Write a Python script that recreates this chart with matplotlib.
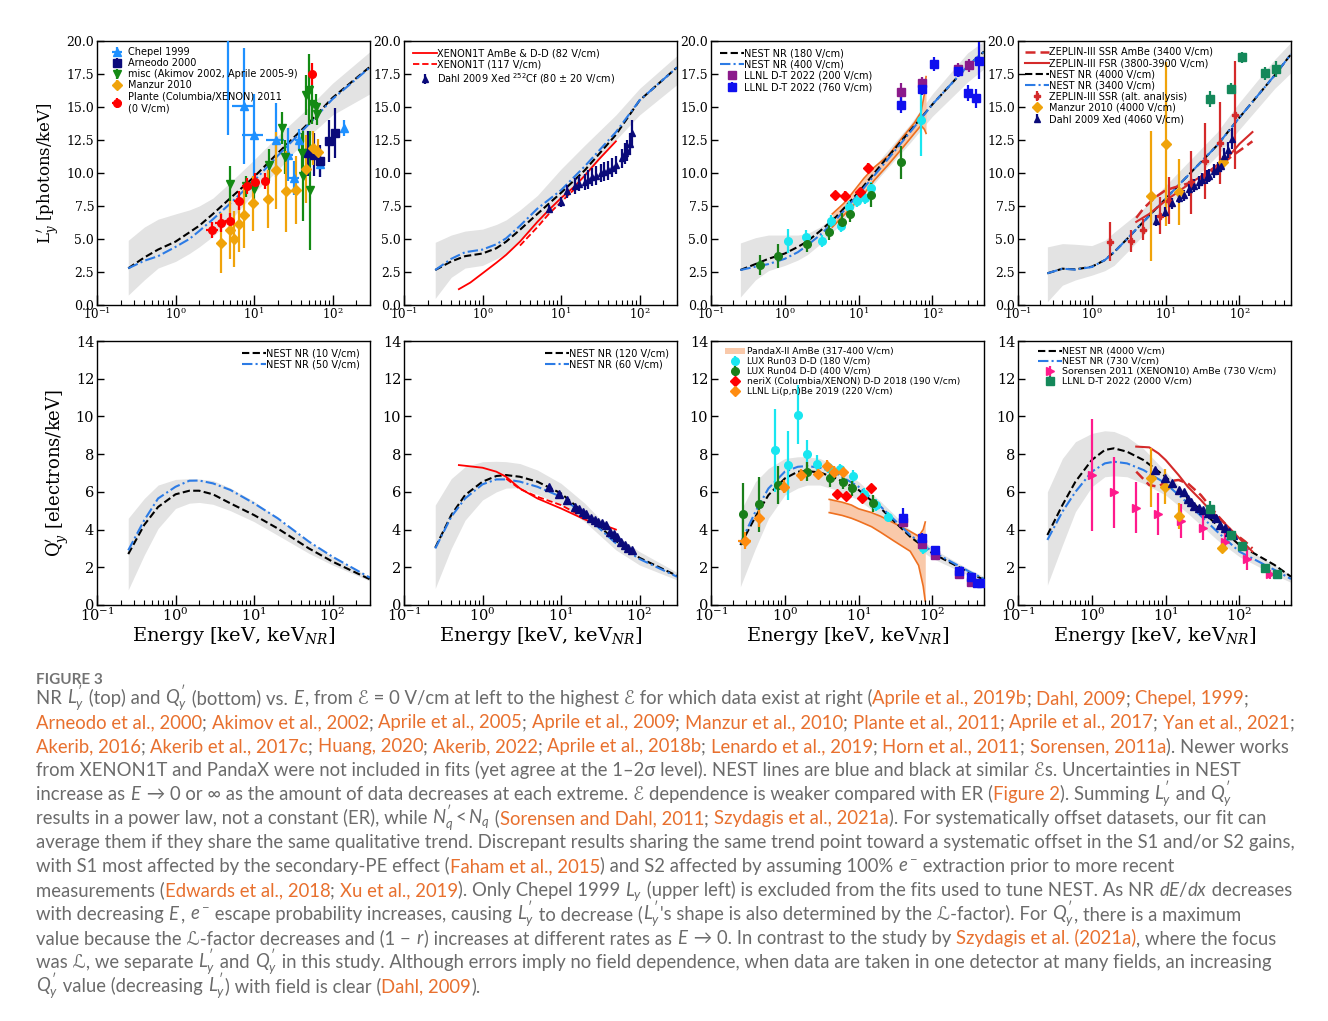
import re
import numpy as np
import matplotlib
matplotlib.use("Agg")
import matplotlib.pyplot as plt
from matplotlib.lines import Line2D
from matplotlib.patches import Patch, Rectangle

# ---------------------------------------------------------------- data
EN = [0.25, 0.4, 0.6, 1, 1.5, 2, 3, 5, 10, 20, 50, 100, 300]
EN5 = EN + [500]

# --- top row (L'y) NEST curves and bands
l1_black = [2.78, 3.6, 4.2, 4.8, 5.5, 6.0, 6.9, 8.1, 9.7, 11.5, 13.8, 15.7, 18.05]
l1_blue = [2.78, 3.35, 3.7, 4.4, 5.0, 5.6, 6.5, 7.7, 9.4, 11.3, 13.7, 15.6, 18.0]
l1_up = [4.9, 5.9, 6.5, 6.9, 7.2, 7.5, 8.1, 9.3, 11.0, 12.8, 15.0, 16.8, 19.2]
l1_lo = [0.75, 1.9, 2.8, 3.3, 3.9, 4.4, 5.2, 6.4, 8.5, 10.2, 12.8, 14.4, 16.0]

l2_black = [2.65, 3.3, 3.7, 3.9, 4.3, 4.8, 5.7, 6.9, 8.5, 10.2, 12.9, 15.5, 18.0]
l2_blue = [2.65, 3.5, 4.0, 4.2, 4.6, 5.05, 6.0, 7.3, 8.7, 10.5, 13.1, 15.5, 18.0]
l2_up = [4.75, 5.3, 5.6, 5.75, 6.1, 6.45, 7.2, 8.3, 10.3, 12.1, 14.4, 16.4, 18.9]
l2_lo = [0.5, 2.1, 2.8, 3.0, 3.5, 3.9, 4.8, 6.1, 7.8, 9.7, 12.5, 14.4, 16.7]

l3_black = [2.65, 3.1, 3.5, 3.9, 4.4, 4.8, 5.6, 6.7, 8.55, 10.6, 13.2, 15.2, 18.1, 19.2]
l3_blue = [2.65, 2.9, 3.1, 3.5, 4.0, 4.5, 5.3, 6.5, 8.4, 10.4, 13.1, 15.2, 18.1, 19.2]
l3_up = [4.7, 5.1, 5.3, 5.3, 5.3, 5.4, 5.9, 6.8, 8.9, 11.1, 13.7, 16.0, 19.1, 20.0]
l3_lo = [0.6, 1.9, 2.6, 3.0, 3.4, 3.8, 4.6, 5.8, 7.8, 9.8, 12.3, 14.3, 16.9, 17.9]

l4_black = [2.4, 2.75, 2.7, 2.9, 3.4, 4.0, 5.0, 6.3, 8.05, 9.8, 12.1, 14.2, 17.4, 19.0]
l4_blue = [2.4, 2.75, 2.68, 2.88, 3.4, 4.0, 5.0, 6.3, 8.05, 9.8, 12.1, 14.2, 17.4, 19.0]
l4_up = [4.4, 4.65, 4.6, 4.5, 4.9, 5.5, 6.3, 7.3, 9.05, 10.8, 13.1, 15.35, 18.6, 19.9]
l4_lo = [0.25, 1.5, 1.9, 2.26, 2.6, 3.0, 4.0, 5.3, 7.3, 9.05, 11.3, 13.3, 16.4, 17.6]

# --- bottom row (Q'y) NEST curves and bands
q1_black = [2.7, 4.25, 5.2, 5.87, 6.06, 6.06, 5.87, 5.39, 4.77, 4.06, 3.0, 2.3, 1.36]
q1_blue = [2.9, 4.5, 5.65, 6.27, 6.59, 6.6, 6.45, 6.1, 5.39, 4.6, 3.36, 2.56, 1.45]
q1_up = [4.6, 5.65, 6.36, 6.66, 6.7, 6.68, 6.6, 6.2, 5.5, 4.6, 3.36, 2.56, 1.48]
q1_lo = [0.8, 2.65, 4.06, 5.12, 5.4, 5.44, 5.34, 5.0, 4.42, 3.7, 2.74, 2.12, 1.27]

q2_black = [3.04, 4.77, 5.83, 6.54, 6.84, 6.89, 6.8, 6.54, 5.92, 4.86, 3.39, 2.5, 1.55]
q2_blue = [3.0, 4.68, 5.65, 6.4, 6.66, 6.66, 6.54, 6.27, 5.74, 4.77, 3.27, 2.44, 1.5]
q2_up = [5.3, 6.7, 7.33, 7.6, 7.62, 7.6, 7.5, 7.16, 6.45, 5.4, 3.7, 2.83, 1.73]
q2_lo = [0.88, 3.0, 4.5, 5.57, 6.0, 6.2, 6.22, 5.87, 5.3, 4.42, 2.92, 2.12, 1.33]

q3_black = [3.18, 4.68, 5.83, 6.71, 7.07, 7.1, 7.03, 6.71, 6.1, 5.12, 3.62, 2.74, 1.77, 1.33]
q3_blue = [3.27, 4.95, 6.18, 7.07, 7.33, 7.37, 7.28, 6.98, 6.27, 5.21, 3.71, 2.83, 1.82, 1.38]
q3_up = [4.95, 6.54, 7.24, 7.77, 7.86, 7.86, 7.77, 7.33, 6.54, 5.48, 3.98, 3.0, 1.94, 1.5]
q3_lo = [0.97, 3.0, 4.59, 5.83, 6.2, 6.36, 6.36, 6.1, 5.57, 4.68, 3.27, 2.47, 1.59, 1.24]

q4_black = [3.71, 5.3, 6.54, 7.69, 8.22, 8.31, 8.13, 7.69, 6.8, 5.65, 4.24, 3.18, 2.12, 1.5]
q4_blue = [3.45, 4.95, 6.0, 7.07, 7.51, 7.6, 7.51, 7.16, 6.45, 5.39, 3.89, 2.83, 1.86, 1.38]
q4_up = [6.0, 7.77, 8.66, 9.1, 9.24, 9.2, 8.92, 8.3, 7.07, 5.83, 4.24, 3.18, 2.12, 1.59]
q4_lo = [1.06, 3.18, 4.95, 6.27, 6.8, 6.85, 6.8, 6.45, 5.83, 4.86, 3.45, 2.56, 1.59, 1.2]

# --- top-left data (0 V/cm)
chepel_E = [4.7, 7.5, 10.0, 19.0, 27.0, 32.0, 37.0, 70.0, 140.0]
chepel_L = [20.6, 15.1, 12.9, 12.5, 11.4, 9.6, 12.5, 10.7, 13.4]
chepel_err = [7.7, 4.4, 3.1, 2.8, 2.0, 1.3, 0.8, 1.0, 0.6]
chepel_xerr = [0.5, 2.3, 2.9, 4.8, 4.0, 5.0, 4.0, 8.0, 0.0]
arneodo_E = [48, 58, 70, 90, 108]
arneodo_L = [11.5, 11.4, 10.9, 12.4, 13.0]
arneodo_err = [1.7, 1.6, 1.2, 1.6, 1.9]
misc_E = [4.9, 7.8, 10.1, 15.4, 22.4, 25.0, 41.0, 41.5, 46.0, 50.0, 52.0, 55.0, 61.0, 64.0]
misc_L = [9.2, 9.0, 8.8, 10.6, 13.4, 11.2, 11.5, 9.8, 15.9, 16.3, 8.7, 15.2, 15.0, 14.5]
misc_err = [1.3, 0.8, 1.0, 1.2, 1.2, 1.3, 1.5, 3.4, 1.5, 2.7, 4.5, 1.5, 1.0, 0.9]
manzur0_E = [3.8, 4.9, 5.6, 6.4, 7.5, 9.6, 14.9, 19.1, 25.4, 34.5, 46, 56, 66]
manzur0_L = [4.7, 5.7, 5.0, 6.1, 6.8, 7.7, 8.0, 10.2, 8.6, 8.7, 10.3, 11.9, 11.6]
manzur0_err = [2.3, 2.2, 2.1, 2.1, 2.5, 2.1, 2.2, 2.9, 3.1, 2.6, 2.6, 1.3, 1.0]
plante_E = [2.95, 3.8, 4.9, 6.4, 8.1, 10.4, 14.0, 54.0]
plante_L = [5.7, 6.2, 6.4, 7.9, 9.0, 9.3, 9.4, 17.5]
plante_err = [0.6, 0.7, 0.6, 0.7, 0.6, 0.7, 0.6, 0.8]
plante_xerr = [0.5, 0.6, 0.6, 0.8, 1.0, 1.2, 1.5, 5.0]

# --- ~100 V/cm (XENON1T, Dahl 2009 Xed 252Cf)
x1t_E = [0.5, 0.7, 1, 1.5, 2, 3, 5, 7, 10, 15, 20, 30, 50]
x1t_L = [1.2, 1.7, 2.4, 3.2, 3.8, 4.8, 6.3, 7.2, 8.1, 9.0, 9.8, 11.0, 12.4]
x1t117_E = [3, 5, 7, 10, 15]
x1t117_L = [4.5, 5.9, 6.9, 7.8, 8.8]
x1t_Eq = [0.5, 1, 1.5, 2, 3, 5, 10, 20, 30, 40, 50]
x1t_Q = [7.42, 7.28, 7.07, 6.8, 6.18, 5.65, 5.12, 4.54, 4.25, 4.15, 4.0]
x1t117_Eq = [2, 3, 5, 10, 20]
x1t117_Q = [6.7, 6.15, 5.74, 5.3, 4.63]
dahl80_E = [7, 10, 12, 15, 17, 20, 22, 25, 28, 32, 35, 40, 45, 50, 60, 65, 70, 75, 80]
dahl80_L = [7.3, 7.8, 8.6, 9.0, 9.2, 9.3, 9.5, 9.7, 9.8, 10.0, 10.1, 10.2, 10.4, 10.6, 11.1, 11.5, 11.7, 12.2, 13.0]
dahl80_err = [0.3, 0.4, 0.5, 0.6, 0.6, 0.6, 0.7, 0.7, 0.7, 0.7, 0.7, 0.7, 0.7, 0.7, 0.7, 0.8, 0.8, 0.8, 1.0]
dahl80_Eq = [7, 9.5, 12, 15, 17, 19, 21, 24, 27, 30, 33, 37, 42, 47, 52, 58, 65, 72, 80]
dahl80_Q = [6.27, 5.87, 5.57, 5.21, 5.1, 4.95, 4.8, 4.63, 4.5, 4.42, 4.33, 4.24, 3.89, 3.75, 3.62, 3.36, 3.2, 3.04, 2.92]

# --- ~200-400 V/cm (LUX, neriX, LLNL, PandaX)
panda_El = [4.4, 6.3, 8, 11.8, 16, 25, 38, 57, 70, 78, 82]
panda_Lup = [6.9, 7.7, 8.4, 9.6, 10.4, 11.3, 12.6, 13.8, 14.6, 16.0, 17.3]
panda_Llo = [5.9, 6.8, 7.4, 8.4, 9.4, 10.6, 11.8, 13.0, 13.6, 13.3, 13.0]
panda_Eq = [4, 6, 8, 10, 15, 20, 30, 50, 65, 75, 80]
panda_Qup = [5.6, 5.45, 5.3, 5.1, 4.9, 4.7, 4.35, 3.9, 3.65, 4.0, 4.4]
panda_Qlo = [4.9, 4.75, 4.6, 4.45, 4.15, 3.85, 3.4, 2.85, 2.1, 1.0, 0.2]
lux03_El = [1.09, 1.94, 3.2, 4.2, 5.7, 7.5, 9.6, 12.2, 14.6, 71]
lux03_L = [4.85, 5.15, 4.85, 6.35, 6.0, 7.4, 7.9, 8.1, 8.9, 14.0]
lux03_Lerr = [0.9, 0.5, 0.45, 0.45, 0.45, 0.45, 0.45, 0.45, 0.45, 2.7]
lux04_El = [0.46, 0.81, 2.0, 4.0, 6.0, 7.6, 14.9, 38]
lux04_L = [3.0, 3.7, 4.6, 5.5, 6.3, 6.9, 8.35, 10.8]
lux04_Lerr = [0.75, 0.9, 0.6, 0.6, 0.65, 0.6, 0.9, 1.25]
nerix_El = [4.8, 6.5, 10.3, 13.5]
nerix_L = [8.3, 8.25, 8.55, 10.4]
llnl200_El = [38, 72, 220, 310]
llnl200_L = [16.15, 16.8, 17.9, 18.15]
llnl200_Lerr = [0.7, 0.5, 0.4, 0.5]
llnl760_El = [38, 72, 105, 220, 300, 390, 430]
llnl760_L = [15.15, 16.4, 18.25, 17.7, 16.05, 15.65, 18.5]
llnl760_Lerr = [0.6, 0.5, 0.5, 0.4, 0.6, 0.7, 1.4]
lux03_Eq = [0.73, 1.1, 1.49, 2.0, 2.77, 3.9, 5.6, 8.3, 11.8, 17, 24.7, 74]
lux03_Q = [8.2, 7.4, 10.1, 8.0, 7.5, 7.3, 7.2, 6.84, 5.9, 5.3, 4.68, 3.0]
lux03_Qerr = [2.2, 1.85, 1.55, 0.75, 0.45, 0.3, 0.3, 0.3, 0.3, 0.3, 0.25, 0.3]
lux04_Eq = [0.27, 0.45, 0.81, 1.98, 4.1, 6.2, 8.2, 15.8]
lux04_Q = [4.82, 5.33, 6.36, 7.07, 6.71, 6.54, 6.2, 5.39]
lux04_Qerr = [1.65, 1.45, 1.0, 0.5, 0.45, 0.4, 0.4, 0.45]
nerix_Eq = [5.1, 6.8, 11.1, 14.6]
nerix_Q = [5.88, 5.8, 5.7, 6.2]
lipbe_Eq = [0.29, 0.45, 0.98, 1.64, 2.83, 3.7, 4.6, 6.2]
lipbe_Q = [3.4, 4.6, 6.27, 6.9, 6.97, 7.38, 7.07, 7.07]
lipbe_Qerr = [0.45, 0.45, 0.35, 0.3, 0.3, 0.3, 0.3, 0.3]
llnl760_Eq = [39.5, 72, 108, 230, 330, 400, 460]
llnl760_Q = [4.63, 3.53, 2.92, 1.8, 1.5, 1.15, 1.15]
llnl760_Qerr = [0.5, 0.3, 0.2, 0.2, 0.2, 0.1, 0.1]
llnl200_Eq = [39.5, 72, 108, 230, 330]
llnl200_Q = [4.38, 3.23, 2.65, 1.64, 1.24]

# --- high field (ZEPLIN-III, Manzur, Dahl Xed, Sorensen, LLNL 2000 V/cm)
zssr_El = [4, 5, 7, 10, 15, 20, 30, 50, 80, 120, 150]
zssr_L = [6.6, 7.3, 8.1, 8.7, 9.0, 9.2, 9.6, 10.4, 11.3, 12.0, 12.4]
zfsr_El = [4, 6, 10, 20, 40, 70, 100, 150]
zfsr_L = [6.3, 6.9, 7.9, 9.1, 10.2, 11.2, 12.2, 13.1]
zalt_E = [1.76, 3.4, 5.0, 8.4, 11.0, 21.8, 34, 55, 86]
zalt_L = [4.8, 4.85, 5.7, 6.75, 7.9, 9.3, 10.9, 12.3, 14.4]
zalt_err = [1.5, 0.8, 0.8, 1.4, 1.8, 2.4, 2.9, 3.1, 4.1]
manzur4k_El = [6.3, 10, 15.1, 60]
manzur4k_L = [8.25, 12.2, 8.55, 10.8]
manzur4k_Lerr = [4.9, 6.2, 2.5, 0.5]
dahl4k_El = [7.3, 9.8, 12.3, 15.1, 17.6, 21, 24, 28, 31.6, 36, 39, 45, 51, 56, 62, 71, 80]
dahl4k_L = [6.4, 7.05, 7.7, 8.1, 8.3, 8.75, 9.05, 9.3, 9.5, 9.7, 9.8, 10.15, 10.35, 10.55, 11.3, 11.75, 12.6]
dahl4k_Lerr = [0.4, 0.4, 0.4, 0.4, 0.4, 0.5, 0.5, 0.5, 0.5, 0.5, 0.5, 0.5, 0.5, 0.5, 0.6, 0.6, 0.8]
llnl2k_El = [39.5, 76, 110, 220, 310]
llnl2k_L = [15.6, 16.4, 18.75, 17.55, 17.9]
llnl2k_Lerr = [0.6, 0.4, 0.4, 0.5, 0.6]
zfsr_Eq = [4, 6, 8, 10, 15, 20, 30, 40, 60, 100, 150]
zfsr_Q = [8.4, 8.36, 8.04, 7.69, 6.89, 6.27, 5.57, 5.03, 4.42, 3.53, 2.83]
zssr_Eq = [4, 6, 8, 10, 15, 20, 30, 50, 80, 120, 150]
zssr_Q = [7.07, 6.36, 6.27, 6.54, 6.63, 6.45, 5.83, 4.77, 3.89, 3.36, 3.0]
sorensen_E = [1, 2, 4, 8, 16, 32, 64, 128, 256]
sorensen_Q = [6.89, 5.97, 5.16, 4.82, 4.47, 4.1, 3.36, 2.44, 1.63]
sorensen_err = [2.96, 1.88, 1.36, 1.1, 0.9, 0.67, 0.5, 0.57, 0.25]
manzur4k_Eq = [6.4, 9.8, 15.2, 58]
manzur4k_Q = [6.75, 6.27, 4.72, 3.0]
manzur4k_Qerr = [1.55, 0.93, 0.7, 0.15]
dahl4k_Eq = [7.1, 9.8, 12.3, 15, 17.6, 19.8, 22, 24.6, 28, 32.5, 37, 42.5, 48, 54, 63, 72, 82]
dahl4k_Q = [7.16, 6.71, 6.45, 6.1, 6.0, 5.6, 5.45, 5.27, 5.15, 5.04, 4.9, 4.82, 4.6, 4.24, 4.06, 3.85, 3.7]
llnl2k_Eq = [40, 76, 110, 220, 320]
llnl2k_Q = [5.09, 3.71, 3.13, 1.94, 1.63]
llnl2k_Qerr = [0.4, 0.2, 0.15, 0.1, 0.1]

LY_TICKS = [0.0, 2.5, 5.0, 7.5, 10.0, 12.5, 15.0, 17.5, 20.0]
QY_TICKS = [0, 2, 4, 6, 8, 10, 12, 14]

CAPTION_TITLE = "FIGURE 3"
CAPTION = [
    "NR $L_y'$ (top) and $Q_y'$ (bottom) vs. $E$, from \u2130 = 0 V/cm at left to the highest \u2130 for which data exist at right («Aprile et al., 2019b»; «Dahl, 2009»; «Chepel, 1999»;",
    "«Arneodo et al., 2000»; «Akimov et al., 2002»; «Aprile et al., 2005»; «Aprile et al., 2009»; «Manzur et al., 2010»; «Plante et al., 2011»; «Aprile et al., 2017»; «Yan et al., 2021»;",
    "«Akerib, 2016»; «Akerib et al., 2017c»; «Huang, 2020»; «Akerib, 2022»; «Aprile et al., 2018b»; «Lenardo et al., 2019»; «Horn et al., 2011»; «Sorensen, 2011a»). Newer works",
    "from XENON1T and PandaX were not included in fits (yet agree at the 1\u20132\u03c3 level). NEST lines are blue and black at similar \u2130s. Uncertainties in NEST",
    "increase as $E$ \u2192 0 or \u221e as the amount of data decreases at each extreme. \u2130 dependence is weaker compared with ER («Figure 2»). Summing $L_y'$ and $Q_y'$",
    "results in a power law, not a constant (ER), while $N_q' < N_q$ («Sorensen and Dahl, 2011»; «Szydagis et al., 2021a»). For systematically offset datasets, our fit can",
    "average them if they share the same qualitative trend. Discrepant results sharing the same trend point toward a systematic offset in the S1 and/or S2 gains,",
    "with S1 most affected by the secondary-PE effect («Faham et al., 2015») and S2 affected by assuming 100% $e^-$ extraction prior to more recent",
    "measurements («Edwards et al., 2018»; «Xu et al., 2019»). Only Chepel 1999 $L_y$ (upper left) is excluded from the fits used to tune NEST. As NR $dE/dx$ decreases",
    "with decreasing $E$, $e^-$ escape probability increases, causing $L_y'$ to decrease ($L_y'$'s shape is also determined by the \u2112-factor). For $Q_y'$, there is a maximum",
    "value because the \u2112-factor decreases and (1 \u2212 $r$) increases at different rates as $E$ \u2192 0. In contrast to the study by «Szydagis et al. (2021a)», where the focus",
    "was \u2112, we separate $L_y'$ and $Q_y'$ in this study. Although errors imply no field dependence, when data are taken in one detector at many fields, an increasing",
    "$Q_y'$ value (decreasing $L_y'$) with field is clear («Dahl, 2009»).",
]

# ---------------------------------------------------------------- style
W, H = 1328, 1021
plt.rcParams["font.family"] = ["DejaVu Serif"]
plt.rcParams["mathtext.fontset"] = "dejavuserif"
plt.rcParams["mathtext.rm"] = "Lato"
plt.rcParams["mathtext.it"] = "Lato:italic"
plt.rcParams["mathtext.bf"] = "Lato:bold"
plt.rcParams["mathtext.sf"] = "Lato"
plt.rcParams["mathtext.fallback"] = "stixsans"

BLACK = "black"
BLUE = "#2c7be5"
BAND = "#e3e3e3"
C_CHEPEL = "#1e90ff"
C_NAVY = "#0a0a7a"
C_GREEN = "#138a13"
C_GOLD = "#f0a30a"
C_RED = "#ff0000"
C_ZRED = "#d42a2a"
C_CYAN = "#19e6f0"
C_LUXG = "#1a7f1a"
C_PURPLE = "#8b1a8b"
C_BLUEDT = "#1010ee"
C_LLNLG = "#14885a"
C_PINK = "#ff1a8c"
C_LIPBE = "#ff8c10"
C_PANDA_FILL = "#f9c9aa"
C_PANDA_LINE = "#ee7020"

fig = plt.figure(figsize=(W / 100, H / 100), dpi=100)

LEFTS = [97, 404, 711, 1018]
AXW = 273
AXH = 264
ROWS = [(41, 305), (341, 605)]
XLIM = [(0.1, 300), (0.1, 300), (0.1, 500), (0.1, 500)]


def make_ax(row, col):
    top, bot = ROWS[row]
    ax = fig.add_axes([LEFTS[col] / W, 1 - bot / H, AXW / W, (bot - top) / H])
    ax.set_xscale("log")
    ax.set_xlim(*XLIM[col])
    if row == 0:
        ax.set_ylim(0, 20)
        ax.set_yticks(LY_TICKS)
        ax.set_yticklabels([f"{v:.1f}" for v in LY_TICKS])
        ysz, xsz = 9, 8.5
    else:
        ax.set_ylim(0, 14)
        ax.set_yticks(QY_TICKS)
        ysz, xsz = 10.5, 10.5
    ax.tick_params(which="both", direction="in", top=False, right=False)
    ax.tick_params(axis="x", which="major", length=7, width=1, labelsize=xsz, pad=1)
    ax.tick_params(axis="x", which="minor", length=3.5, width=0.8)
    ax.tick_params(axis="y", which="major", length=5, width=1, labelsize=ysz, pad=2)
    for s in ax.spines.values():
        s.set_linewidth(1.0)
    return ax


def nest(ax, E, black, blue, up, lo):
    ax.fill_between(E, lo, up, color=BAND, lw=0, zorder=0)
    hb, = ax.plot(E, black, ls=(0, (3.5, 1.6)), color=BLACK, lw=1.5, zorder=2)
    hl, = ax.plot(E, blue, ls=(0, (5, 1.5, 1, 1.5)), color=BLUE, lw=1.5, zorder=2)
    return hb, hl


def eb(ax, x, y, yerr, color, marker, ms=5.5, xerr=None, z=4, elw=1.6):
    return ax.errorbar(x, y, yerr=yerr, xerr=xerr, fmt=marker, color=color, ms=ms,
                       mec=color, elinewidth=elw, capsize=0, zorder=z)


def legend(ax, handles, labels, dx, dy, loc="upper left", htp=0.0, hl=2.5, size=7):
    """dx, dy: offset in pixels of the legend box corner from the axes corner."""
    if loc == "upper left":
        anchor = (dx / AXW, 1 - dy / AXH)
    else:
        anchor = (1 - dx / AXW, 1 - dy / AXH)
    lg = ax.legend(handles, labels, loc=loc, bbox_to_anchor=anchor, frameon=False,
                   prop={"family": "DejaVu Sans", "size": size},
                   labelspacing=0.12, borderpad=0.0, borderaxespad=0.0, handletextpad=htp,
                   handlelength=hl)
    for t in lg.get_texts():
        t.set_math_fontfamily("dejavusans")
    return lg


axs = [[make_ax(r, c) for c in range(4)] for r in range(2)]

# ---------------- top-left
ax = axs[0][0]
nest(ax, EN, l1_black, l1_blue, l1_up, l1_lo)
h1 = eb(ax, chepel_E, chepel_L, chepel_err, C_CHEPEL, "^", xerr=chepel_xerr)
h2 = eb(ax, arneodo_E, arneodo_L, arneodo_err, C_NAVY, "s")
h3 = eb(ax, misc_E, misc_L, misc_err, C_GREEN, "v")
h4 = eb(ax, manzur0_E, manzur0_L, manzur0_err, C_GOLD, "D")
h5 = eb(ax, plante_E, plante_L, plante_err, C_RED, "o", xerr=plante_xerr)
legend(ax, [h1, h2, h3, h4, h5],
       ["Chepel 1999", "Arneodo 2000", "misc (Akimov 2002, Aprile 2005-9)", "Manzur 2010",
        "Plante (Columbia/XENON) 2011\n(0 V/cm)"], 12.5, 6, htp=0.4, hl=1.5)

# ---------------- top 2
ax = axs[0][1]
nest(ax, EN, l2_black, l2_blue, l2_up, l2_lo)
ha, = ax.plot(x1t_E, x1t_L, color=C_RED, lw=1.3, zorder=3)
hb, = ax.plot(x1t117_E, x1t117_L, color=C_RED, lw=1.3, ls=(0, (3.5, 1.6)), zorder=3)
hc = eb(ax, dahl80_E, dahl80_L, dahl80_err, C_NAVY, "^", ms=5)
legend(ax, [ha, hb, hc], ["XENON1T AmBe & D-D (82 V/cm)", "XENON1T (117 V/cm)",
                          "Dahl 2009 Xed $^{252}$Cf (80 \u00b1 20 V/cm)"], 9, 7.5)

# ---------------- top 3
ax = axs[0][2]
hb, hl = nest(ax, EN5, l3_black, l3_blue, l3_up, l3_lo)
ax.fill_between(panda_El, panda_Llo, panda_Lup, color=C_PANDA_FILL, lw=0, zorder=1)
ax.plot(panda_El, panda_Lup, color=C_PANDA_LINE, lw=1.2, zorder=1.5)
ax.plot(panda_El, panda_Llo, color=C_PANDA_LINE, lw=1.2, zorder=1.5)
eb(ax, lux03_El, lux03_L, lux03_Lerr, C_CYAN, "o")
eb(ax, lux04_El, lux04_L, lux04_Lerr, C_LUXG, "o")
eb(ax, nerix_El, nerix_L, [0.35] * len(nerix_L), C_RED, "D")
hp = eb(ax, llnl200_El, llnl200_L, llnl200_Lerr, C_PURPLE, "s")
hq = eb(ax, llnl760_El, llnl760_L, llnl760_Lerr, C_BLUEDT, "s")
legend(ax, [hb, hl, hp, hq], ["NEST NR (180 V/cm)", "NEST NR (400 V/cm)",
                              "LLNL D-T 2022 (200 V/cm)", "LLNL D-T 2022 (760 V/cm)"], 9, 7.5)

# ---------------- top 4
ax = axs[0][3]
hb, hl = nest(ax, EN5, l4_black, l4_blue, l4_up, l4_lo)
hz1, = ax.plot(zssr_El, zssr_L, color=C_ZRED, lw=1.8, ls=(0, (4, 2)), zorder=3)
hz2, = ax.plot(zfsr_El, zfsr_L, color=C_ZRED, lw=1.5, zorder=3)
hza = eb(ax, zalt_E, zalt_L, zalt_err, C_ZRED, "P", ms=5)
hm = eb(ax, manzur4k_El, manzur4k_L, manzur4k_Lerr, C_GOLD, "D")
hd = eb(ax, dahl4k_El, dahl4k_L, dahl4k_Lerr, C_NAVY, "^", ms=5)
eb(ax, llnl2k_El, llnl2k_L, llnl2k_Lerr, C_LLNLG, "s")
legend(ax, [hz1, hz2, hb, hl, hza, hm, hd],
       ["ZEPLIN-III SSR AmBe (3400 V/cm)", "ZEPLIN-III FSR (3800-3900 V/cm)", "NEST NR (4000 V/cm)",
        "NEST NR (3400 V/cm)", "ZEPLIN-III SSR (alt. analysis)", "Manzur 2010 (4000 V/cm)",
        "Dahl 2009 Xed (4060 V/cm)"], 7, 6)

# ---------------- bottom 1
ax = axs[1][0]
hb, hl = nest(ax, EN, q1_black, q1_blue, q1_up, q1_lo)
legend(ax, [hb, hl], ["NEST NR (10 V/cm)", "NEST NR (50 V/cm)"], 10, 7, loc="upper right")

# ---------------- bottom 2
ax = axs[1][1]
hb, hl = nest(ax, EN, q2_black, q2_blue, q2_up, q2_lo)
ax.plot(x1t_Eq, x1t_Q, color=C_RED, lw=1.3, zorder=3)
ax.plot(x1t117_Eq, x1t117_Q, color=C_RED, lw=1.3, ls=(0, (3.5, 1.6)), zorder=3)
eb(ax, dahl80_Eq, dahl80_Q, [0.08] * len(dahl80_Q), C_NAVY, "^", ms=5.5)
legend(ax, [hb, hl], ["NEST NR (120 V/cm)", "NEST NR (60 V/cm)"], 8, 7, loc="upper right")

# ---------------- bottom 3
ax = axs[1][2]
hb, hl = nest(ax, EN5, q3_black, q3_blue, q3_up, q3_lo)
ax.fill_between(panda_Eq, panda_Qlo, panda_Qup, color=C_PANDA_FILL, lw=0, zorder=1)
ax.plot(panda_Eq, panda_Qup, color=C_PANDA_LINE, lw=1.2, zorder=1.5)
ax.plot(panda_Eq, panda_Qlo, color=C_PANDA_LINE, lw=1.2, zorder=1.5)
hpx = Patch(facecolor=C_PANDA_FILL, edgecolor="none")
h1 = eb(ax, lux03_Eq, lux03_Q, lux03_Qerr, C_CYAN, "o")
h2 = eb(ax, lux04_Eq, lux04_Q, lux04_Qerr, C_LUXG, "o")
h3 = eb(ax, nerix_Eq, nerix_Q, [0.2] * len(nerix_Q), C_RED, "D", xerr=[0.5, 0.7, 1.1, 1.4])
h4 = eb(ax, lipbe_Eq, lipbe_Q, lipbe_Qerr, C_LIPBE, "D",
        xerr=[0.06, 0.06, 0.1, 0.15, 0.25, 0.3, 0.4, 0.5])
eb(ax, llnl200_Eq, llnl200_Q, [0.2] * len(llnl200_Q), C_PURPLE, "s", ms=6)
eb(ax, llnl760_Eq, llnl760_Q, llnl760_Qerr, C_BLUEDT, "s", ms=6)
legend(ax, [hpx, h1, h2, h3, h4],
       ["PandaX-II AmBe (317-400 V/cm)", "LUX Run03 D-D (180 V/cm)", "LUX Run04 D-D (400 V/cm)",
        "neriX (Columbia/XENON) D-D 2018 (190 V/cm)", "LLNL Li(p,n)Be 2019 (220 V/cm)"],
       14, 6, htp=0.15, hl=2.2, size=6.6)

# ---------------- bottom 4
ax = axs[1][3]
hb, hl = nest(ax, EN5, q4_black, q4_blue, q4_up, q4_lo)
ax.plot(zfsr_Eq, zfsr_Q, color=C_ZRED, lw=1.5, zorder=3)
ax.plot(zssr_Eq, zssr_Q, color=C_ZRED, lw=1.8, ls=(0, (4, 2)), zorder=3)
hs = eb(ax, sorensen_E, sorensen_Q, sorensen_err, C_PINK, ">")
eb(ax, manzur4k_Eq, manzur4k_Q, manzur4k_Qerr, C_GOLD, "D")
eb(ax, dahl4k_Eq, dahl4k_Q, [0.1] * len(dahl4k_Q), C_NAVY, "^", ms=5.5)
hg = eb(ax, llnl2k_Eq, llnl2k_Q, llnl2k_Qerr, C_LLNLG, "s", ms=6)
legend(ax, [hb, hl, hs, hg], ["NEST NR (4000 V/cm)", "NEST NR (730 V/cm)",
                              "Sorensen 2011 (XENON10) AmBe (730 V/cm)", "LLNL D-T 2022 (2000 V/cm)"],
       20, 6, size=6.8)

# ---------------- axis labels
fig.text(48 / W, 1 - 173 / H, r"$\mathrm{L}_y'$ [photons/keV]", rotation=90, ha="center",
         va="center", fontsize=12, family="DejaVu Serif")
fig.text(58 / W, 1 - 473 / H, r"$\mathrm{Q}_y'$ [electrons/keV]", rotation=90, ha="center",
         va="center", fontsize=13, family="DejaVu Serif")
for c in range(4):
    fig.text((LEFTS[c] + AXW / 2) / W, 1 - 636 / H, r"Energy [keV, keV$_{NR}$]", ha="center",
             va="center", fontsize=14, family="DejaVu Serif")

# ---------------------------------------------------------------- caption
CAP_GRAY = "#6b6b6b"
CAP_ORANGE = "#e8702e"
CAP_FAM = ["Lato", "DejaVu Sans"]
renderer = fig.canvas.get_renderer()


def parse(line):
    segs = []
    color = CAP_GRAY
    for part in re.split(r"(«|»)", line):
        if part == "«":
            color = CAP_ORANGE
            continue
        if part == "»":
            color = CAP_GRAY
            continue
        if not part:
            continue
        pieces = part.split("$")
        for i, p in enumerate(pieces):
            if not p:
                continue
            if i % 2:
                segs.append(("$" + p + "$", color, True))
            else:
                segs.append((p, color, False))
    return segs


def mk(x, y, s, color, is_math, fs):
    kw = dict(fontsize=fs, family=CAP_FAM, color=color, va="baseline", ha="left")
    if is_math:
        kw["math_fontfamily"] = "custom"
    return fig.text(x / W, 1 - y / H, s, **kw)


def width(s, is_math, fs):
    if is_math:
        t = mk(0, 0, s, "k", True, fs)
        w = t.get_window_extent(renderer).width
        t.remove()
        return w
    t1 = mk(0, 0, "|" + s + "|", "k", False, fs)
    t2 = mk(0, 0, "||", "k", False, fs)
    w = t1.get_window_extent(renderer).width - t2.get_window_extent(renderer).width
    t1.remove()
    t2.remove()
    return w


parsed = [parse(l) for l in CAPTION]
fs0 = 12.0
nat = sum(width(s, m, fs0) for s, c, m in parsed[1])
FS = fs0 * (1295 - 36) / nat

fig.text(36 / W, 1 - 684 / H, CAPTION_TITLE, fontsize=11, family=CAP_FAM, weight="bold",
         color="#737373", va="baseline")
for k, segs in enumerate(parsed):
    x = 36.0
    y = 704 + 24 * k
    for s, c, m in segs:
        mk(x, y, s, c, m, FS)
        x += width(s, m, FS)

fig.savefig("out.png", dpi=100)
